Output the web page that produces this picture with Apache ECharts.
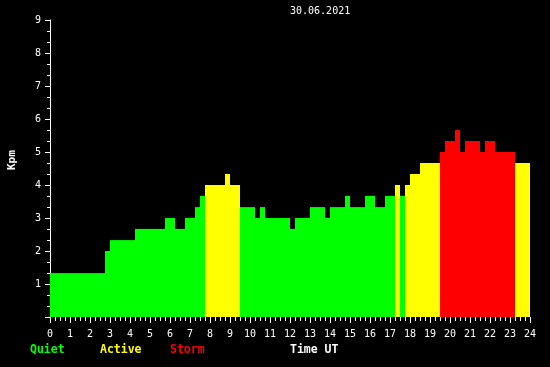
<!DOCTYPE html>
<html>
<head>
<meta charset="utf-8">
<script src="https://cdn.jsdelivr.net/npm/echarts@6/dist/echarts.min.js"></script>
<style>html,body{margin:0;padding:0;background:#000;}#c{width:550px;height:367px;}</style>
</head>
<body>
<div id="c"></div>
<script>
// 15-minute Kp slots, 00:00 .. 23:45 UT, 30.06.2021
var dateLabel = '30.06.2021';
var kpValues = [
  1.33,1.33,1.33,1.33,1.33,1.33,1.33,1.33,1.33,1.33,1.33, // 0:00-2:45
  2.0,                                                  // 2:45
  2.33,2.33,2.33,2.33,2.33,                             // 3:00-4:15
  2.67,2.67,2.67,2.67,2.67,2.67,                        // 4:15-5:45
  3.0,3.0, 2.67,2.67, 3.0,3.0, 3.33, 3.67,              // 5:45-7:45
  4.0,4.0,4.0,4.0, 4.33, 4.0,4.0,                       // 7:45-9:30
  3.33,3.33,3.33, 3.0, 3.33,                            // 9:30-10:45
  3.0,3.0,3.0,3.0,3.0, 2.67, 3.0,3.0,3.0,               // 10:45-13:00
  3.33,3.33,3.33, 3.0, 3.33,3.33,3.33, 3.67,            // 13:00-15:00
  3.33,3.33,3.33, 3.67,3.67, 3.33,3.33, 3.67,3.67,      // 15:00-17:15
  4.0, 3.67, 4.0, 4.33,4.33, 4.67,4.67,4.67,4.67,       // 17:15-19:30
  5.0, 5.33,5.33, 5.67, 5.0, 5.33,5.33,5.33, 5.0,       // 19:30-21:45
  5.33,5.33, 5.0,5.0,5.0,5.0, 4.67,4.67,4.67            // 21:45-24:00
];
var hourTicks = [0,1,2,3,4,5,6,7,8,9,10,11,12,13,14,15,16,17,18,19,20,21,22,23,24];
var kpTicks = [0,1,2,3,4,5,6,7,8,9];
var legendNames = ['Quiet','Active','Storm'];
var legendColors = ['#00ff00','#ffff00','#ff0000'];
var slotLabels = kpValues.map(function(_, i){
  var m = i*15; var h = Math.floor(m/60); var mm = m%60;
  return (h<10?'0':'')+h+':'+(mm<10?'0':'')+mm;
});

function kpColor(v){ return v >= 5 ? legendColors[2] : (v >= 4 ? legendColors[1] : legendColors[0]); }

var chart = echarts.init(document.getElementById('c'));
var mono = 'DejaVu Sans Mono';
chart.setOption({
  backgroundColor: '#000000',
  animation: false,
  grid: { left: 50, top: 20, width: 480, height: 297, containLabel: false },
  xAxis: [
    { type: 'category', data: slotLabels, show: false, boundaryGap: true },
    { type: 'value', min: hourTicks[0], max: hourTicks[hourTicks.length-1], interval: 1, position: 'bottom',
      axisLine: { show: false },
      axisTick: { show: true, length: 6, lineStyle: { color: '#fff' } },
      minorTick: { show: true, splitNumber: 4, length: 4, lineStyle: { color: '#fff' } },
      splitLine: { show: false },
      axisLabel: { color: '#fff', fontFamily: mono, fontSize: 10, margin: 12 } }
  ],
  yAxis: {
    type: 'value', min: kpTicks[0], max: kpTicks[kpTicks.length-1], interval: 1,
    axisLine: { show: true, lineStyle: { color: '#fff' } },
    axisTick: { show: true, length: 5, lineStyle: { color: '#fff' } },
    minorTick: { show: true, splitNumber: 3, length: 3, lineStyle: { color: '#fff' } },
    splitLine: { show: false },
    axisLabel: { color: '#fff', fontFamily: mono, fontSize: 10, margin: 9,
      formatter: function(v){ return v === 0 ? '' : String(v); } }
  },
  series: [{
    type: 'bar', xAxisIndex: 0, data: kpValues, barCategoryGap: '0%',
    itemStyle: { color: function(p){ return kpColor(p.value); } }
  }],
  graphic: [
    { type: 'text', left: 290, top: 6, style: { text: dateLabel, fill: '#fff', font: '10px "DejaVu Sans Mono"' } },
    { type: 'text', x: 7, y: 170, rotation: Math.PI/2, style: { text: 'Kpm', fill: '#fff', font: 'bold 11px "DejaVu Sans Mono"' } },
    { type: 'text', left: 30, top: 344, style: { text: legendNames[0], fill: legendColors[0], font: 'bold 11.5px "DejaVu Sans Mono"' } },
    { type: 'text', left: 100, top: 344, style: { text: legendNames[1], fill: legendColors[1], font: 'bold 11.5px "DejaVu Sans Mono"' } },
    { type: 'text', left: 170, top: 344, style: { text: legendNames[2], fill: legendColors[2], font: 'bold 11.5px "DejaVu Sans Mono"' } },
    { type: 'text', left: 290, top: 344, style: { text: 'Time UT', fill: '#fff', font: 'bold 11.5px "DejaVu Sans Mono"' } }
  ]
});
</script>
</body>
</html>
